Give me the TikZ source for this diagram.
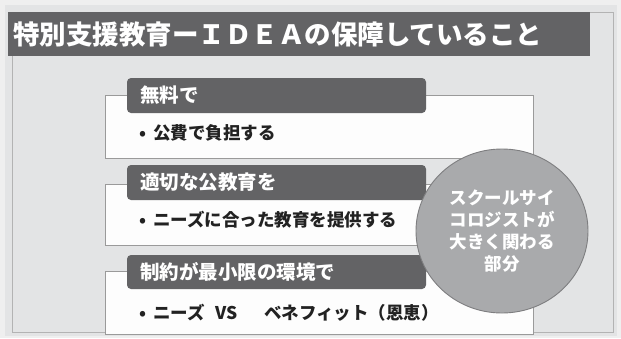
\documentclass[tikz,border=0pt]{standalone}
\usepackage{fontspec}
\newfontfamily\jp{Noto Sans CJK JP}
\definecolor{outerbg}{HTML}{EFEFEF}
\definecolor{panelbg}{HTML}{E3E4E5}
\definecolor{framecol}{HTML}{B3B3B3}
\definecolor{darkbar}{HTML}{636365}
\definecolor{boxline}{HTML}{9A9A9A}
\definecolor{boxfill}{HTML}{FDFDFD}
\definecolor{circfill}{HTML}{A9AAAC}
\definecolor{circline}{HTML}{7E7E80}
\definecolor{txt}{HTML}{222222}
\tikzset{
  whitebox/.style={draw=boxline, fill=boxfill, line width=0.9pt},
  tabbox/.style={fill=darkbar, rounded corners=4pt},
  tabtext/.style={anchor=west, inner sep=0pt, text=white, font=\jp\bfseries\fontsize{19.5}{22}\selectfont},
  bodytext/.style={anchor=west, inner sep=0pt, text=txt, font=\jp\bfseries\fontsize{17.5}{20}\selectfont},
  circtext/.style={align=center, inner sep=0pt, text=white, font=\jp\bfseries\fontsize{17.5}{21.7}\selectfont},
}
\begin{document}
\begin{tikzpicture}[x=1pt,y=-1pt]
\useasboundingbox (0,0) rectangle (621,338);
\fill[outerbg] (0,0) rectangle (621,338);
\fill[panelbg] (5,5) rectangle (617,336);
\draw[framecol, line width=0.9pt] (12,12) rectangle (613,332);
% title
\fill[darkbar] (8,12) rectangle (590,56);
\node[anchor=west, inner sep=0pt, text=white, font=\jp\bfseries\fontsize{26.5}{29}\selectfont] (title) at (13,34) {特別支援教育ーＩＤＥＡの保障していること};
% box 1
\draw[whitebox] (105,95) rectangle (533,158);
\fill[tabbox] (127,78) rectangle (426,113);
\node[tabtext] (t1) at (140,95.5) {無料で};
\node[bodytext] (b1) at (139,133) {•\hspace{7pt}公費で負担する};
% box 2
\draw[whitebox] (105,184) rectangle (533,245);
\fill[tabbox] (127,165) rectangle (426,200);
\node[tabtext] (t2) at (140,182.5) {適切な公教育を};
\node[bodytext] (b2) at (139,220) {•\hspace{7pt}ニーズに合った教育を提供する};
% box 3
\draw[whitebox] (105,271) rectangle (533,334);
\fill[tabbox] (127,255) rectangle (426,289);
\node[tabtext] (t3) at (140,272) {制約が最小限の環境で};
\node[bodytext] (b3) at (139,313) {•\hspace{7pt}ニーズ\hspace{11pt}VS\hspace{26pt}ベネフィット（恩恵）};
% circle
\draw[fill=circfill, draw=circline, line width=0.9pt] (502,231) ellipse [x radius=86, y radius=82];
\node[circtext] (c) at (502,231) {スクールサイ\\コロジストが\\大きく関わる\\部分};
\end{tikzpicture}
\end{document}
